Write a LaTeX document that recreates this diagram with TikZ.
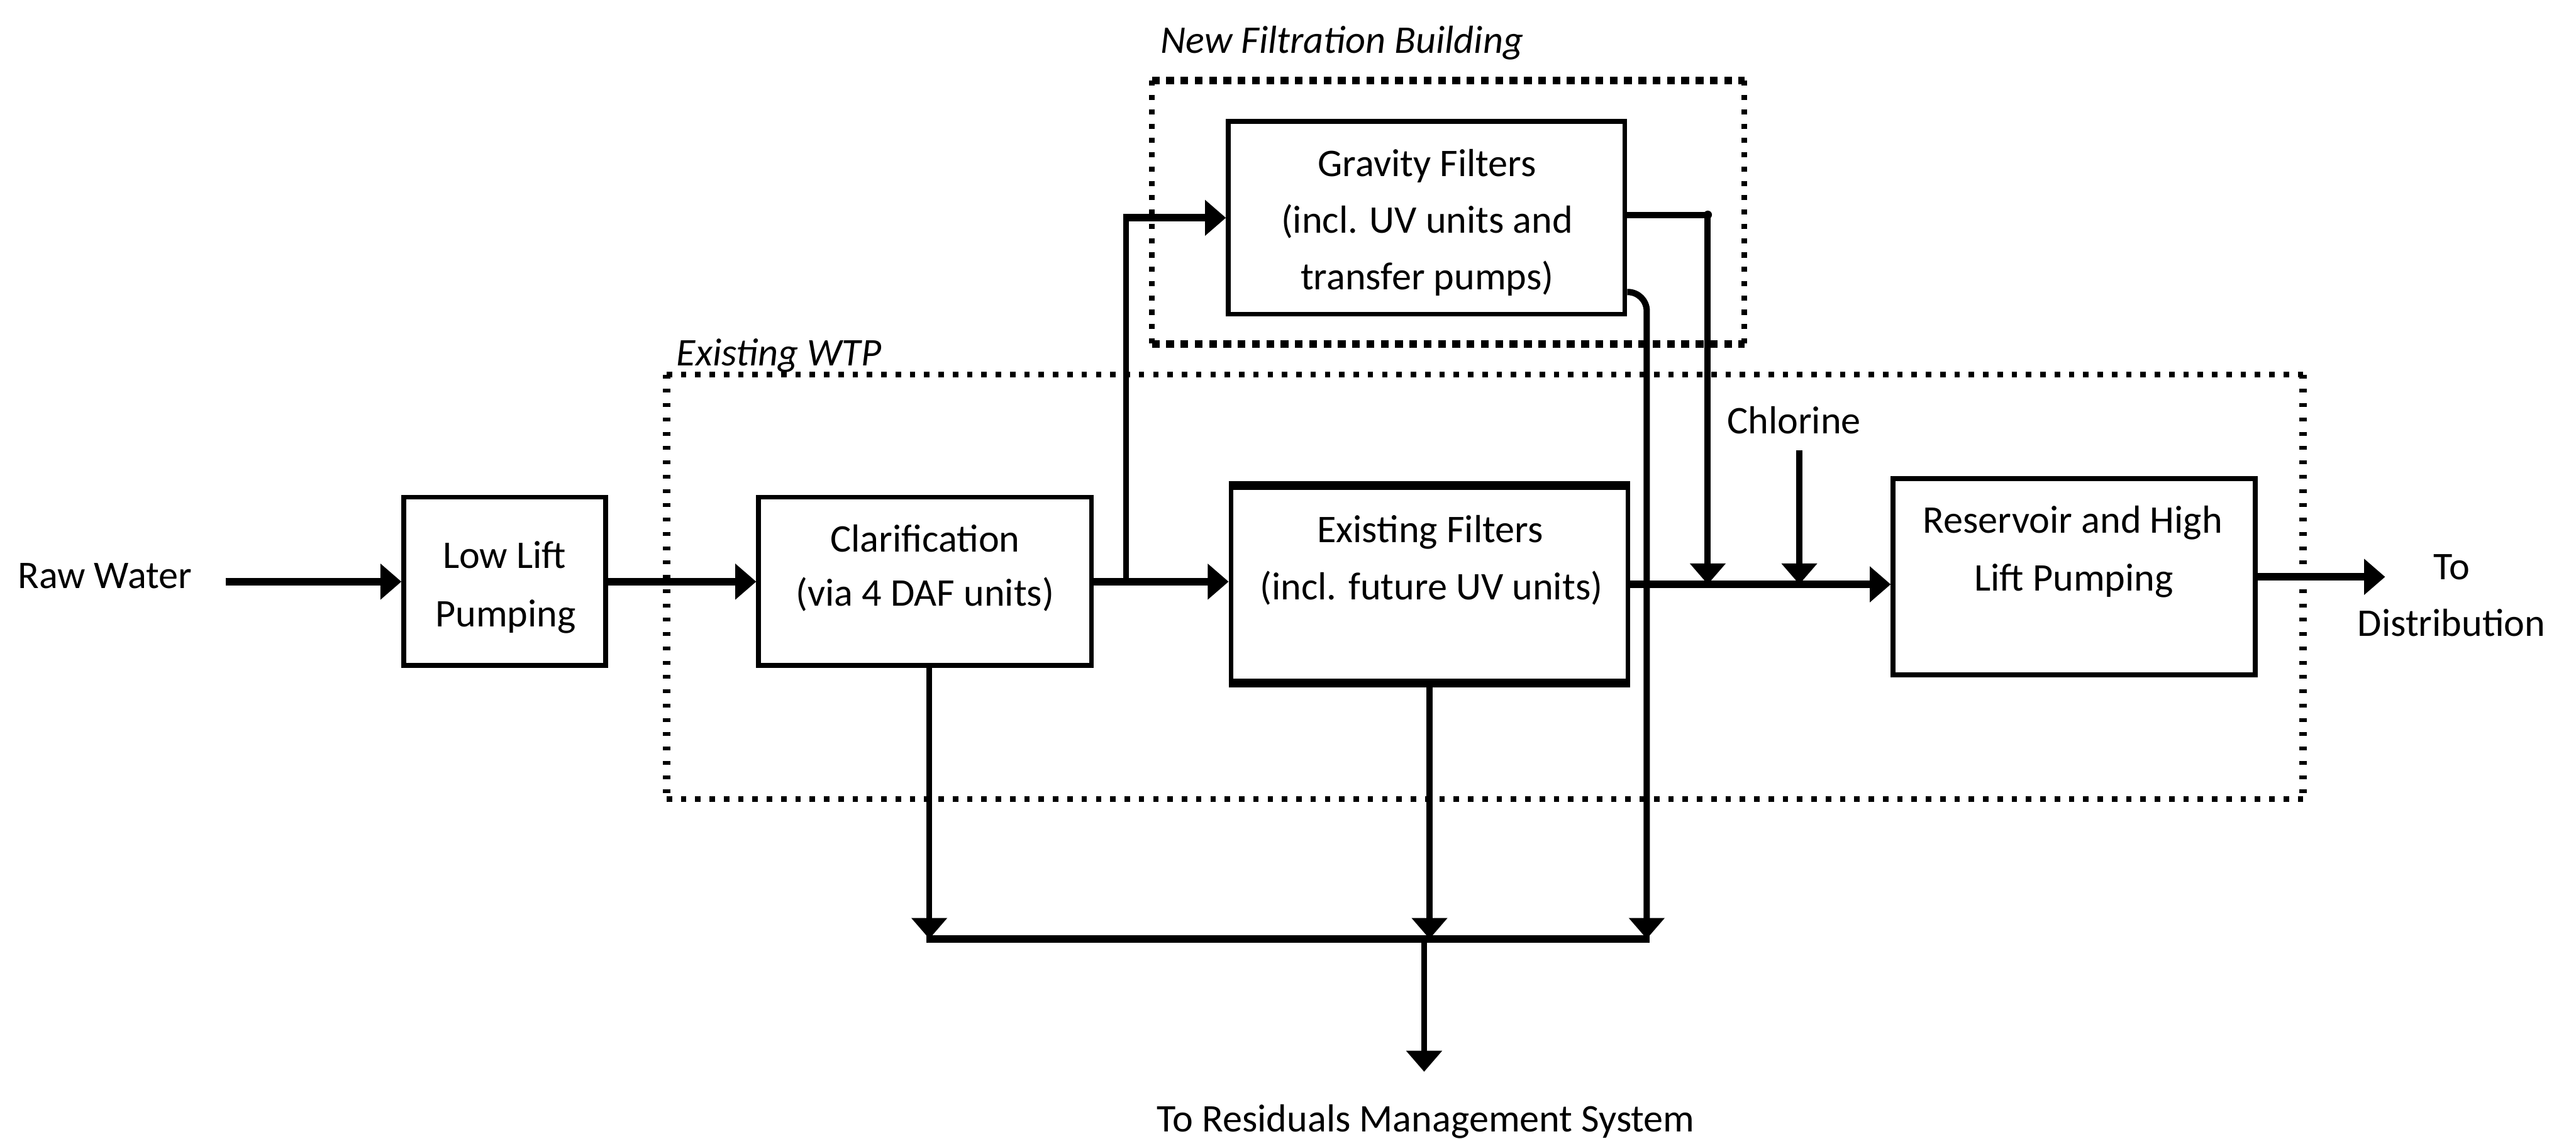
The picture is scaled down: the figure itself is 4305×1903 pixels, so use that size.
\documentclass[tikz,border=0pt]{standalone}
\usepackage{fontspec}
\setmainfont{Carlito}
\usetikzlibrary{arrows.meta}
\begin{document}
\begin{tikzpicture}[x=0.01cm,y=-0.01cm,
  box/.style={draw, line width=2.3pt, inner sep=0pt},
  txt/.style={font=\fontsize{18.6pt}{24pt}\selectfont, inner sep=0pt, anchor=base},
  itxt/.style={font=\fontsize{18.6pt}{24pt}\selectfont\itshape, inner sep=0pt, anchor=base west},
  tip/.style={-{Triangle[length=0.35cm,width=0.58cm]}},
  hflow/.style={line width=3.5pt},
  vflow/.style={line width=2.8pt},
  mflow/.style={line width=3pt},
  dotsh/.style={line width=2.6pt, dash pattern=on 2.6pt off 4.2pt},
  dotsv/.style={line width=3.4pt, dash pattern=on 1.8pt off 5pt},
  nfh/.style={line width=3.6pt, dash pattern=on 3.7pt off 3.1pt},
  nfv/.style={line width=2.8pt, dash pattern=on 2.4pt off 4.4pt}
]
\useasboundingbox (0,0) rectangle (4305,1903);

% enclosures
\draw[nfh] (1925,135) -- (2915,135);
\draw[nfh] (1925,575) -- (2915,575);
\draw[nfv] (1925,135) -- (1925,575);
\draw[nfv] (2915,135) -- (2915,575);
\draw[dotsh] (1114,626) -- (3849,626);
\draw[dotsh] (1114,1335) -- (3849,1335);
\draw[dotsv] (1114,626) -- (1114,1335);
\draw[dotsv] (3849,626) -- (3849,1335);
\node[itxt] (nflab) at (1939,89) {New Filtration Building};
\node[itxt] (ewlab) at (1130,611) {Existing WTP};

% boxes
\node[box, minimum width=3.37cm, minimum height=2.81cm] (ll) at (843.5,971.5) {};
\node[box, minimum width=5.56cm, minimum height=2.81cm] (clar) at (1546,971.5) {};
\node[box, minimum width=6.63cm, minimum height=3.23cm] (ef) at (2389,976.5) {};
\draw[line width=3.6pt] (ef.north west) -- (ef.north east);
\draw[line width=3.6pt] (ef.south west) -- (ef.south east);
\node[box, minimum width=6.62cm, minimum height=3.22cm] (gf) at (2384,364) {};
\node[box, minimum width=6.05cm, minimum height=3.28cm] (res) at (3466.5,964) {};

% texts
\node[txt, anchor=base west] (raw) at (29,983) {Raw Water};
\node[txt] (llt1) at (843,950) {Low Lift};
\node[txt] (llt2) at (845,1047) {Pumping};
\node[txt] (clt1) at (1546,922) {Clarification};
\node[txt] (clt2) at (1546,1013) {(via 4 DAF units)};
\node[txt] (eft1) at (2390,907) {Existing Filters};
\node[txt] (eft2) at (2392,1002) {(incl. future UV units)};
\node[txt] (gft1) at (2385,295) {Gravity Filters};
\node[txt] (gft2) at (2385,389) {(incl. UV units and};
\node[txt] (gft3) at (2385,484) {transfer pumps)};
\node[txt] (rst1) at (3464,891) {Reservoir and High};
\node[txt] (rst2) at (3466,987) {Lift Pumping};
\node[txt] (chl) at (2998,725) {Chlorine};
\node[txt] (to1) at (4097,969) {To};
\node[txt] (to2) at (4097,1063) {Distribution};
\node[txt] (resid) at (2383,1891) {To Residuals Management System};

% coordinates
\coordinate (rawstart) at (377,972);
\coordinate (br) at (1882,972);
\coordinate (g1) at (2854,359);
\coordinate (g2) at (2752,488);
\coordinate (cl) at (3007,753);
\coordinate (r1) at (1553,1569);
\coordinate (rj) at (2380,1569);
\coordinate (rout) at (2380,1791);
\coordinate (dist) at (3986,966);

% main flow
\draw[hflow,tip] (rawstart) -- (rawstart -| ll.west);
\draw[hflow,tip] (ll.east |- rawstart) -- (rawstart -| clar.west);
\draw[hflow,tip] (clar.east |- br) -- (br -| ef.west);
\draw[vflow] (br) -- (br |- gf.west);
\draw[hflow,tip] ([xshift=-1.4pt]br |- gf.west) -- (gf.west);
\draw[hflow,tip] (ef.east) -- (ef.east -| res.west);
\draw[hflow,tip] (res.east) -- (res.east -| dist);

% gravity filter outputs
\draw[mflow,tip] (g1 -| gf.east) -- (g1) -- (g1 |- ef.east);
\fill (g1) circle (7);
\draw[mflow,tip,rounded corners=9] (g2 -| gf.east) -- (g2) -- (g2 |- rj);
\draw[vflow,tip] (cl) -- (cl |- ef.east);

% residuals
\draw[hflow] ([xshift=-1.4pt]r1) -- ([xshift=1.4pt]g2 |- rj);
\draw[vflow,tip] (r1 |- clar.south) -- (r1);
\draw[vflow,tip] (ef.south) -- (ef.south |- rj);
\draw[vflow,tip] (rj) -- (rout);
\end{tikzpicture}
\end{document}
